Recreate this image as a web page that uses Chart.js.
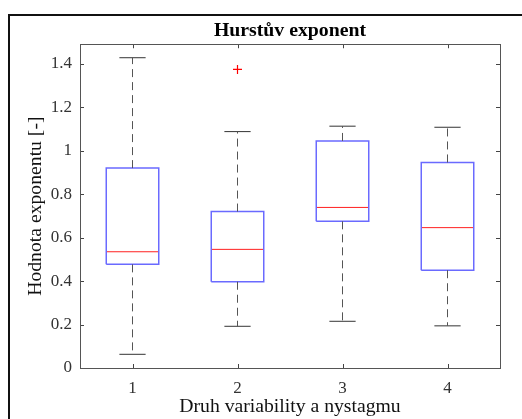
<!DOCTYPE html>
<html lang="cs">
<head>
<meta charset="UTF-8">
<title>Hurstův exponent</title>
<script src="https://cdn.jsdelivr.net/npm/chart.js"></script>
<style>
    body {
        margin: 0;
        background: #fff;
        overflow: hidden;
    }
    .frame {
        position: absolute;
        left: 8px;
        top: 14px;
        width: 600px;
        height: 500px;
        border-left: 2px solid #111;
        border-top: 2px solid #111;
    }
    #graf {
        position: absolute;
        left: 0;
        top: 0;
    }
</style>
</head>
<body>
<div class="frame"></div>
<canvas id="graf" width="522" height="419"></canvas>
<script>
// data
const categories = [1, 2, 3, 4];
const whiskerLow = [0.063, 0.192, 0.215, 0.194];
const q1 = [0.477, 0.397, 0.675, 0.450];
const median = [0.535, 0.546, 0.739, 0.646];
const q3 = [0.920, 0.720, 1.045, 0.946];
const whiskerHigh = [1.428, 1.088, 1.113, 1.108];
const outlierX = [2];
const outlierY = [1.374];
const yTicks = [0, 0.2, 0.4, 0.6, 0.8, 1, 1.2, 1.4];

const BOX_HALF = 0.25;
const CAP_HALF = 0.125;
const serif = '"Liberation Serif", "Times New Roman", serif';

function line(points, color, width, dash) {
    return {
        type: 'scatter',
        data: points,
        showLine: true,
        borderColor: color,
        borderWidth: width,
        borderDash: dash || [],
        pointRadius: 0,
        pointHoverRadius: 0,
        fill: false
    };
}

const datasets = [];
categories.forEach((x, i) => {
    // whiskers
    datasets.push(line([{ x: x, y: q3[i] }, { x: x, y: whiskerHigh[i] }], '#555', 1, [8, 5]));
    datasets.push(line([{ x: x, y: q1[i] }, { x: x, y: whiskerLow[i] }], '#555', 1, [8, 5]));
    datasets.push(line([{ x: x - CAP_HALF, y: whiskerHigh[i] }, { x: x + CAP_HALF, y: whiskerHigh[i] }], '#333', 1));
    datasets.push(line([{ x: x - CAP_HALF, y: whiskerLow[i] }, { x: x + CAP_HALF, y: whiskerLow[i] }], '#333', 1));
    // box
    datasets.push(line([
        { x: x - BOX_HALF, y: q1[i] },
        { x: x + BOX_HALF, y: q1[i] },
        { x: x + BOX_HALF, y: q3[i] },
        { x: x - BOX_HALF, y: q3[i] },
        { x: x - BOX_HALF, y: q1[i] }
    ], '#6a6aff', 1.5));
    // median
    datasets.push(line([{ x: x - BOX_HALF, y: median[i] }, { x: x + BOX_HALF, y: median[i] }], '#ff2020', 1));
});
datasets.push({
    type: 'scatter',
    data: outlierX.map((x, i) => ({ x: x, y: outlierY[i] })),
    borderColor: '#ff0000',
    backgroundColor: '#ff0000',
    pointStyle: 'cross',
    pointRadius: 4.5,
    pointBorderColor: '#ff0000',
    pointBorderWidth: 1.2,
    pointBackgroundColor: '#ff0000'
});

// MATLAB style: ticks inside, box around the axes
const insideTicks = {
    id: 'insideTicks',
    afterDatasetsDraw(chart) {
        const { ctx, chartArea: a, scales } = chart;
        const len = 4;
        ctx.save();
        ctx.strokeStyle = '#444';
        ctx.lineWidth = 1;
        ctx.beginPath();
        yTicks.forEach(v => {
            const y = Math.round(scales.y.getPixelForValue(v)) + 0.5;
            ctx.moveTo(a.left, y); ctx.lineTo(a.left + len, y);
            ctx.moveTo(a.right, y); ctx.lineTo(a.right - len, y);
        });
        categories.forEach(v => {
            const x = Math.round(scales.x.getPixelForValue(v)) + 0.5;
            ctx.moveTo(x, a.bottom); ctx.lineTo(x, a.bottom - len);
            ctx.moveTo(x, a.top); ctx.lineTo(x, a.top + len);
        });
        ctx.stroke();
        ctx.strokeStyle = '#555';
        ctx.strokeRect(Math.round(a.left) + 0.5, Math.round(a.top) + 0.5,
            Math.round(a.right - a.left), Math.round(a.bottom - a.top));
        ctx.restore();
    }
};

new Chart(document.getElementById('graf'), {
    type: 'scatter',
    data: { datasets: datasets },
    options: {
        responsive: false,
        animation: false,
        events: [],
        layout: { padding: { left: 0, right: 22, top: 0, bottom: 0 } },
        plugins: {
            legend: { display: false },
            tooltip: { enabled: false },
            title: {
                display: true,
                text: 'Hurstův exponent',
                fullSize: false,
                color: '#000',
                font: { family: serif, size: 19.8, weight: 'bold' },
                padding: { top: 19, bottom: 1.5 }
            }
        },
        scales: {
            x: {
                type: 'linear',
                min: 0.5,
                max: 4.5,
                afterBuildTicks: s => { s.ticks = categories.map(v => ({ value: v })); },
                afterFit: s => { s.height = 51; },
                grid: { display: false, drawTicks: false },
                border: { display: false },
                ticks: {
                    color: '#333',
                    font: { family: serif, size: 17 },
                    padding: 10,
                    maxRotation: 0
                },
                title: {
                    display: true,
                    text: 'Druh variability a nystagmu',
                    color: '#111',
                    font: { family: serif, size: 19.7 },
                    padding: { top: -1.5, bottom: 0 }
                }
            },
            y: {
                type: 'linear',
                min: 0,
                max: 1.49,
                afterBuildTicks: s => { s.ticks = yTicks.map(v => ({ value: v })); },
                afterFit: s => { s.width = 80; },
                grid: { display: false, drawTicks: false },
                border: { display: false },
                ticks: {
                    color: '#333',
                    font: { family: serif, size: 17 },
                    padding: 8,
                    callback: v => String(Math.round(v * 10) / 10)
                },
                title: {
                    display: true,
                    text: 'Hodnota exponentu [-]',
                    color: '#111',
                    font: { family: serif, size: 19.7 },
                    padding: { top: 24, bottom: 0 }
                }
            }
        }
    },
    plugins: [insideTicks]
});
</script>
</body>
</html>
